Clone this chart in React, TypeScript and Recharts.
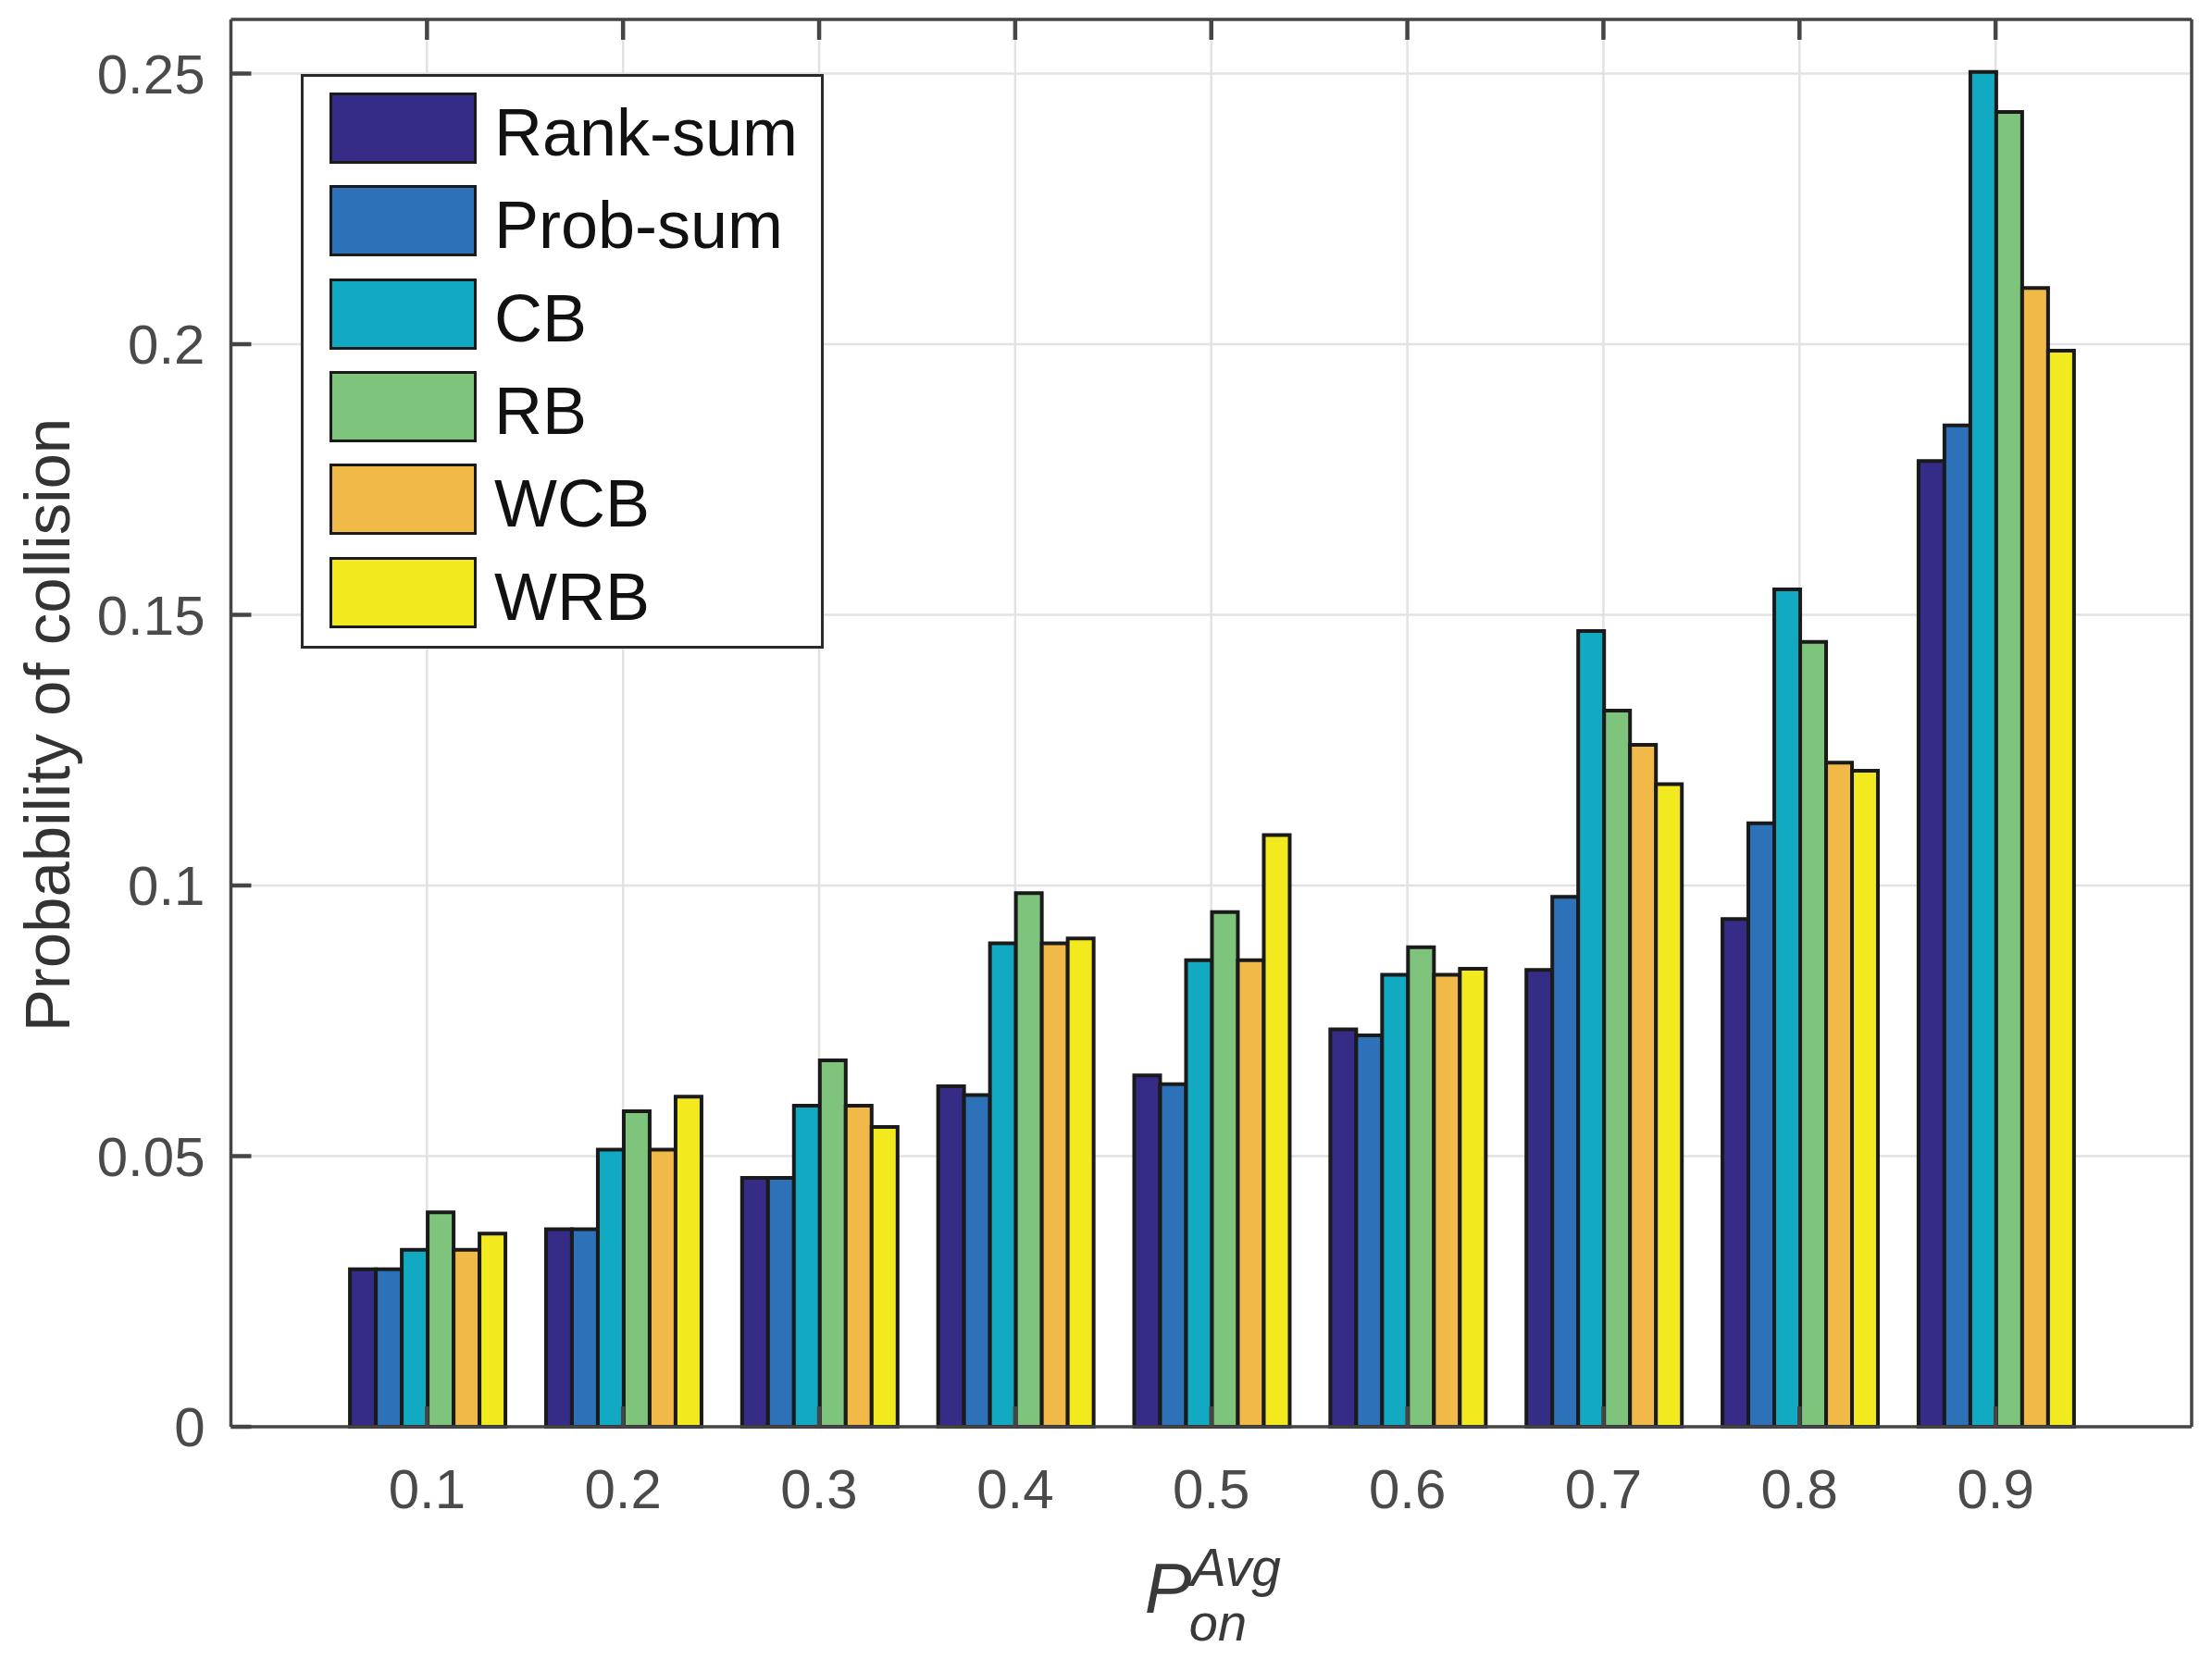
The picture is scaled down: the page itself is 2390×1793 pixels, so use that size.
import React from 'react';
import { BarChart, Bar, XAxis, YAxis, CartesianGrid, Legend } from 'recharts';

const categories = ['0.1', '0.2', '0.3', '0.4', '0.5', '0.6', '0.7', '0.8', '0.9'];
const rankSum = [0.0291, 0.0365, 0.046, 0.0629, 0.0649, 0.0734, 0.0844, 0.0938, 0.1784];
const probSum = [0.0291, 0.0365, 0.046, 0.0613, 0.0633, 0.0723, 0.0979, 0.1115, 0.185];
const cb = [0.0327, 0.0512, 0.0593, 0.0893, 0.0862, 0.0835, 0.147, 0.1547, 0.2503];
const rb = [0.0396, 0.0583, 0.0677, 0.0986, 0.0951, 0.0886, 0.1323, 0.145, 0.2429];
const wcb = [0.0327, 0.0512, 0.0593, 0.0893, 0.0862, 0.0835, 0.126, 0.1227, 0.2104];
const wrb = [0.0357, 0.061, 0.0554, 0.0902, 0.1093, 0.0846, 0.1187, 0.1212, 0.1988];
const yTicks = [0, 0.05, 0.1, 0.15, 0.2, 0.25];
const yTickLabels = ['0', '0.05', '0.1', '0.15', '0.2', '0.25'];

const seriesNames = ['Rank-sum', 'Prob-sum', 'CB', 'RB', 'WCB', 'WRB'];
const seriesKeys = ['rankSum', 'probSum', 'cb', 'rb', 'wcb', 'wrb'];
const seriesColors = ['#352C87', '#2D72B9', '#12AAC3', '#7EC47D', '#F1B948', '#F2EA1E'];

const data = categories.map((c, i) => ({
  p: c,
  rankSum: rankSum[i],
  probSum: probSum[i],
  cb: cb[i],
  rb: rb[i],
  wcb: wcb[i],
  wrb: wrb[i],
}));

const FONT = '"Liberation Sans", Arial, Helvetica, sans-serif';
const AXIS_COLOR = '#454545';
const AXIS_W = 3.5;
const TICK_COLOR = '#454545';
const TICK_W = 4.5;
const TICK_LEN = 22;
const TICK_TEXT = '#4a4a4a';
const X_TEXT_GAP = 45;
const Y_TEXT_GAP = 28;

const W = 2390;
const H = 1793;
const MARGIN = { top: 20, right: 21, bottom: 0, left: 99.5 };
const X_AXIS_H = 251;
const Y_AXIS_W = 150;
const PLOT_W = W - MARGIN.left - MARGIN.right - 1 - Y_AXIS_W;
const PAD = PLOT_W * 0.05;

const tickLineStyle = { stroke: TICK_COLOR, strokeWidth: TICK_W };
const axisLineStyle = { stroke: AXIS_COLOR, strokeWidth: AXIS_W };

const BottomTick = (props: any) => {
  const { x, y, payload } = props;
  return (
    <text x={x} y={y + 43} textAnchor="middle" fontFamily={FONT} fontSize={60} fill={TICK_TEXT}>
      {payload.value}
    </text>
  );
};

const LeftTick = (props: any) => {
  const { x, y, payload } = props;
  const idx = yTicks.indexOf(payload.value);
  const label = idx >= 0 ? yTickLabels[idx] : String(payload.value);
  return (
    <text x={x} y={y + 21} textAnchor="end" fontFamily={FONT} fontSize={60} fill={TICK_TEXT}>
      {label}
    </text>
  );
};

const NoTick = () => <g />;

const XLabel = (props: any) => {
  const vb = props.viewBox || { x: MARGIN.left + Y_AXIS_W, y: 1542, width: PLOT_W, height: X_AXIS_H };
  const cx = vb.x + vb.width / 2;
  const top = vb.y;
  return (
    <g fontFamily={FONT} fill="#3a3a3a" fontStyle="italic">
      <text x={cx - 72} y={top + 201} fontSize={76}>P</text>
      <text x={cx - 22} y={top + 172} fontSize={57}>Avg</text>
      <text x={cx - 24} y={top + 231} fontSize={56}>on</text>
    </g>
  );
};

const YLabel = (props: any) => {
  const vb = props.viewBox || { x: MARGIN.left, y: MARGIN.top, width: Y_AXIS_W, height: 1521 };
  const bx = vb.x - 24.5;
  const cy = vb.y + vb.height / 2 + 2;
  return (
    <text
      x={bx}
      y={cy}
      transform={`rotate(-90, ${bx}, ${cy})`}
      textAnchor="middle"
      fontFamily={FONT}
      fontSize={69}
      fill="#333"
    >
      Probability of collision
    </text>
  );
};

const renderLegend = (props: any) => {
  const payload = [...(props.payload || [])].sort(
    (a: any, b: any) => seriesNames.indexOf(a.value) - seriesNames.indexOf(b.value)
  );
  return (
    <div
      style={{
        position: 'relative',
        width: 565,
        height: 621,
        border: '3px solid #2a2a2a',
        boxSizing: 'border-box',
        background: '#fff',
        fontFamily: FONT,
      }}
    >
      {payload.map((entry: any, i: number) => {
        const top = 17 + i * 100.3;
        return (
          <React.Fragment key={i}>
            <div
              style={{
                position: 'absolute',
                left: 28,
                top,
                width: 159,
                height: 77,
                boxSizing: 'border-box',
                border: '3.5px solid #1a1a1a',
                background: entry.color,
              }}
            />
            <div
              style={{
                position: 'absolute',
                left: 206,
                top: top + 5,
                height: 77,
                lineHeight: '77px',
                fontSize: 72,
                color: '#111',
                whiteSpace: 'nowrap',
              }}
            >
              {entry.value}
            </div>
          </React.Fragment>
        );
      })}
    </div>
  );
};

export default function App() {
  return (
    <div style={{ position: 'absolute', left: 0, top: 0, width: W, height: H, background: '#fff' }}>
      <BarChart
        width={W}
        height={H}
        data={data}
        margin={MARGIN}
        barCategoryGap="10.7%"
        barGap={0}
      >
        <CartesianGrid xAxisId="b" yAxisId="l" stroke="#e2e2e2" strokeWidth={2.5} />
        <XAxis
          xAxisId="b"
          dataKey="p"
          interval={0}
          padding={{ left: PAD, right: PAD }}
          height={X_AXIS_H}
          tickLine={tickLineStyle}
          tickSize={-TICK_LEN}
          tickMargin={X_TEXT_GAP + TICK_LEN}
          axisLine={axisLineStyle}
          tick={<BottomTick />}
          label={<XLabel />}
        />
        <XAxis
          xAxisId="t"
          orientation="top"
          dataKey="p"
          interval={0}
          padding={{ left: PAD, right: PAD }}
          height={1}
          tickLine={tickLineStyle}
          tickSize={-TICK_LEN}
          tickMargin={0}
          axisLine={axisLineStyle}
          tick={<NoTick />}
        />
        <YAxis
          yAxisId="l"
          type="number"
          domain={[0, 0.26]}
          ticks={yTicks}
          interval={0}
          width={Y_AXIS_W}
          tickLine={tickLineStyle}
          tickSize={-TICK_LEN}
          tickMargin={Y_TEXT_GAP + TICK_LEN}
          axisLine={axisLineStyle}
          tick={<LeftTick />}
          label={<YLabel />}
        />
        <YAxis
          yAxisId="r"
          orientation="right"
          type="number"
          domain={[0, 0.26]}
          ticks={yTicks}
          interval={0}
          width={1}
          tickLine={tickLineStyle}
          tickSize={-TICK_LEN}
          tickMargin={0}
          axisLine={axisLineStyle}
          tick={<NoTick />}
        />
        <Legend
          layout="horizontal"
          align="center"
          verticalAlign="middle"
          content={renderLegend}
          wrapperStyle={{ position: 'absolute', left: 325, top: 80, width: 565, height: 621 }}
        />
        {seriesKeys.map((k, i) => (
          <Bar
            key={k}
            xAxisId="b"
            yAxisId="l"
            dataKey={k}
            name={seriesNames[i]}
            fill={seriesColors[i]}
            stroke="#1a1a1a"
            strokeWidth={4}
            isAnimationActive={false}
          />
        ))}
      </BarChart>
    </div>
  );
}
